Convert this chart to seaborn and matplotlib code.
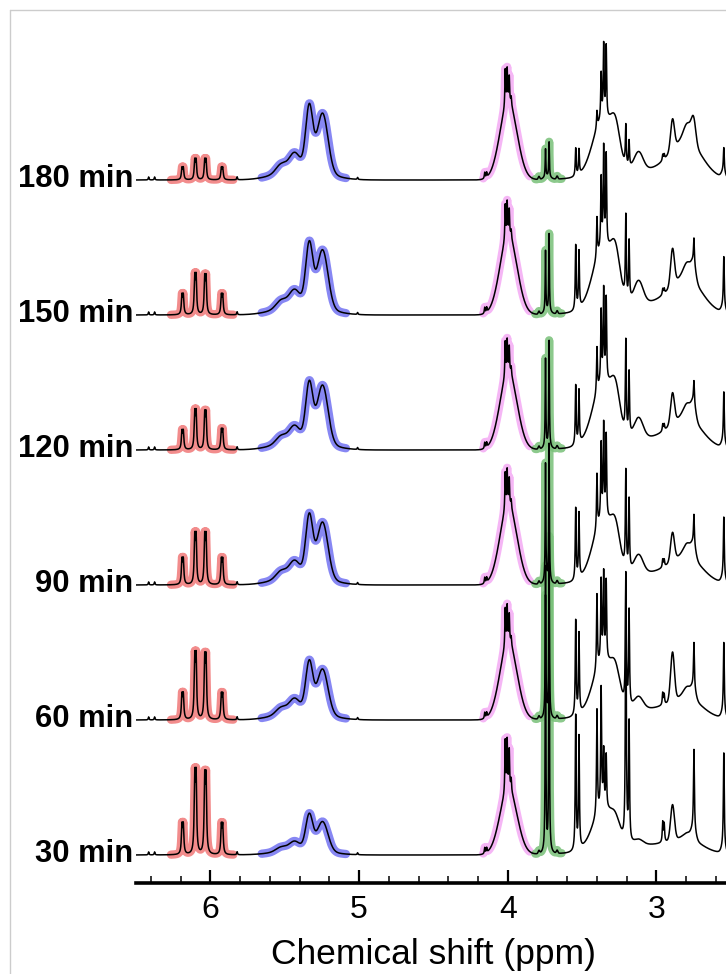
import numpy as np
import pandas as pd
import matplotlib
matplotlib.use("Agg")
import matplotlib.pyplot as plt
import matplotlib.transforms as mtransforms
from matplotlib.lines import Line2D
import seaborn as sns

sns.set_theme(style="white")
plt.rcParams["font.family"] = ["Liberation Sans", "DejaVu Sans"]

# ---------------------------------------------------------------- data
times = ["30 min", "60 min", "90 min", "120 min", "150 min", "180 min"]

# vinyl multiplet (6.3-5.8 ppm): Lorentzian lines, heights per spectrum (30 -> 180 min)
vinyl_ppm = [6.191, 6.182, 6.105, 6.096, 6.038, 6.029, 5.926, 5.917]
vinyl_fwhm = 0.009
vinyl_h = [
    [27, 27, 72, 72, 70, 70, 27, 27],
    [23, 23, 57, 57, 56, 56, 23, 23],
    [23, 23, 44, 44, 44, 44, 23, 23],
    [17, 17, 34, 34, 33, 33, 18, 18],
    [18, 18, 35, 35, 34, 34, 18, 18],
    [11, 11, 18, 18, 18, 18, 11, 11],
]

# anomeric envelope (5.65-5.1 ppm): Gaussian components
anomeric_ppm = [5.38, 5.335, 5.245, 5.435, 5.525]
anomeric_fwhm = [0.35, 0.055, 0.085, 0.08, 0.08]
anomeric_h = [
    [6.7, 34.0, 29.0, 7.6, 3.9],
    [10.6, 48.0, 44.0, 11.9, 6.2],
    [12.0, 58.0, 55.0, 13.5, 7.0],
    [12.0, 55.5, 57.0, 13.5, 7.0],
    [12.5, 59.6, 57.0, 14.0, 7.3],
    [13.4, 61.0, 58.0, 15.0, 7.8],
]

# 4.0 ppm band: broad hump plus fine lines on top
band4_ppm = 3.995
band4_fwhm = 0.135
band4_h = [66, 78, 80, 78, 80, 78]
band4_lines_ppm = [4.155, 4.142, 4.017, 4.004, 3.990, 3.977]
band4_lines_h = [
    [6, 5, 52, 48, 38, 12],
    [6, 5, 38, 36, 27, 8],
    [6, 5, 37, 35, 26, 8],
    [6, 5, 35, 32, 25, 8],
    [6, 5, 35, 33, 25, 8],
    [6, 5, 37, 33, 25, 8],
]

# 3.7 ppm singlets
singlet_ppm = [3.746, 3.722]
singlet_h = [
    [255, 275],
    [150, 180],
    [118, 138],
    [88, 106],
    [61, 78],
    [28, 35],
]
singlet_foot_ppm = [3.790, 3.735, 3.668]
singlet_foot_fwhm = [0.012, 0.05, 0.012]
singlet_foot_h = [3, 3, 3]

# 3.6-2.5 ppm region: sharp lines
upfield_ppm = [3.543, 3.521, 3.400, 3.372, 3.355, 3.338, 3.206, 3.184,
               2.958, 2.948, 2.748, 2.547]
upfield_h = [
    [135, 112, 105, 120, 55, 52, 260, 118, 20, 18, 80, 95],
    [95, 80, 75, 80, 85, 78, 130, 95, 12, 10, 45, 70],
    [72, 65, 55, 75, 92, 82, 97, 70, 8, 7, 30, 60],
    [60, 53, 45, 71, 90, 82, 92, 62, 7, 6, 22, 50],
    [65, 57, 40, 69, 97, 90, 82, 58, 6, 5, 25, 50],
    [28, 25, 17, 45, 72, 71, 40, 26, 6, 5, 0, 24],
]
# 3.6-2.5 ppm region: broad components
upfield_broad_ppm = [3.36, 3.275, 3.12, 3.10, 2.80, 2.892, 2.79, 2.75, 2.55]
upfield_broad_fwhm = [0.16, 0.07, 0.07, 0.6, 0.24, 0.03, 0.06, 0.035, 0.03]
upfield_broad_h = [
    [40, 15, 5, 10, 12, 35, 5, 10, 6],
    [52, 25, 12, 11, 18, 48, 10, 10, 6],
    [58, 30, 18, 12, 24, 28, 12, 12, 6],
    [60, 33, 20, 12, 28, 30, 13, 15, 6],
    [60, 35, 22, 12, 33, 36, 14, 15, 6],
    [55, 30, 18, 10, 36, 30, 16, 23, 6],
]

# small lines on the flat baseline
minor_ppm = [6.415, 6.375, 5.82, 5.01]
minor_h = [3, 3, 3, 2]

# highlighted spectral windows (ppm) and their colours
windows = [(6.265, 5.845), (5.655, 5.088), (4.165, 3.852), (3.815, 3.638)]
window_colors = ["#f07878", "#7272f2", "#f4aaf4", "#78c078"]

# ---------------------------------------------------------------- model
ppm = np.linspace(6.5, 2.45, 9000)


def lorentz(x, x0, fwhm, h):
    return h / (1.0 + ((x - x0) / (fwhm / 2.0)) ** 2)


def gauss(x, x0, fwhm, h):
    return h * np.exp(-4.0 * np.log(2.0) * ((x - x0) / fwhm) ** 2)


def build(i):
    y = np.zeros_like(ppm)
    for c, h in zip(vinyl_ppm, vinyl_h[i]):
        y += lorentz(ppm, c, vinyl_fwhm, h)
    for c, w, h in zip(anomeric_ppm, anomeric_fwhm, anomeric_h[i]):
        y += gauss(ppm, c, w, h)
    y += gauss(ppm, band4_ppm, band4_fwhm, band4_h[i])
    for c, h in zip(band4_lines_ppm, band4_lines_h[i]):
        y += lorentz(ppm, c, 0.006, h)
    for c, h in zip(singlet_ppm, singlet_h[i]):
        y += lorentz(ppm, c, 0.005, h)
    for c, w, h in zip(singlet_foot_ppm, singlet_foot_fwhm, singlet_foot_h):
        y += gauss(ppm, c, w, h)
    for c, h in zip(upfield_ppm, upfield_h[i]):
        y += lorentz(ppm, c, 0.007, h)
    for c, w, h in zip(upfield_broad_ppm, upfield_broad_fwhm, upfield_broad_h[i]):
        y += gauss(ppm, c, w, h)
    for c, h in zip(minor_ppm, minor_h):
        y += lorentz(ppm, c, 0.006, h)
    return y


# ---------------------------------------------------------------- figure
W, H = 726, 974
fig = plt.figure(figsize=(W / 100, H / 100), dpi=100)

axis_y = 882.7          # pixel row of the ppm axis
x_left, x_right = 136.0, 730.8
ax = fig.add_axes([x_left / W, (H - axis_y) / H,
                   (x_right - x_left) / W, (axis_y - 10) / H])
ax.set_xlim(6.5, 2.5)
ax.set_ylim(0, axis_y - 10)

offsets = [27.7, 162.7, 297.7, 432.7, 567.7, 702.7]

for i, label in enumerate(times):
    trace = offsets[i] + build(i)
    df = pd.DataFrame({"ppm": ppm, "y": trace})
    for (hi, lo), col in zip(windows, window_colors):
        seg = df[(df.ppm <= hi) & (df.ppm >= lo)]
        sns.lineplot(data=seg, x="ppm", y="y", ax=ax, color=col, lw=6.0,
                     alpha=0.85, estimator=None, sort=False,
                     solid_capstyle="round", solid_joinstyle="round", zorder=1)
    sns.lineplot(data=df, x="ppm", y="y", ax=ax, color="black", lw=1.1,
                 estimator=None, sort=False, zorder=2)

# time labels to the left of each baseline
trans = mtransforms.blended_transform_factory(fig.transFigure, ax.transData)
for i, label in enumerate(times):
    ax.text(133 / W, offsets[i] - 7, label, transform=trans, ha="right",
            va="baseline", fontsize=22.3, fontweight="bold", color="black",
            clip_on=False)

# axis styling
for side in ["left", "top", "right"]:
    ax.spines[side].set_visible(False)
ax.spines["bottom"].set_linewidth(2.6)
ax.spines["bottom"].set_color("black")
ax.set_yticks([])
ax.set_xticks([6, 5, 4, 3])
ax.set_xticks(np.arange(6.4, 2.49, -0.2), minor=True)
ax.tick_params(axis="x", which="major", direction="in", length=9.5, width=1.6,
               labelsize=23, pad=9, colors="black", bottom=True)
ax.tick_params(axis="x", which="minor", direction="in", length=5, width=1.3,
               bottom=True)
ax.set_xlabel("Chemical shift (ppm)", fontsize=25.5, labelpad=9, color="black")
ax.set_ylabel("")
ax.patch.set_alpha(0)

# thin light frame around the panel
fig.add_artist(Line2D([10 / W, 1.2], [1 - 10 / H, 1 - 10 / H],
                      transform=fig.transFigure, color="#cccccc", lw=1.0))
fig.add_artist(Line2D([10 / W, 10 / W], [-0.2, 1 - 10 / H],
                      transform=fig.transFigure, color="#cccccc", lw=1.0))

fig.savefig("out.png", dpi=100)
